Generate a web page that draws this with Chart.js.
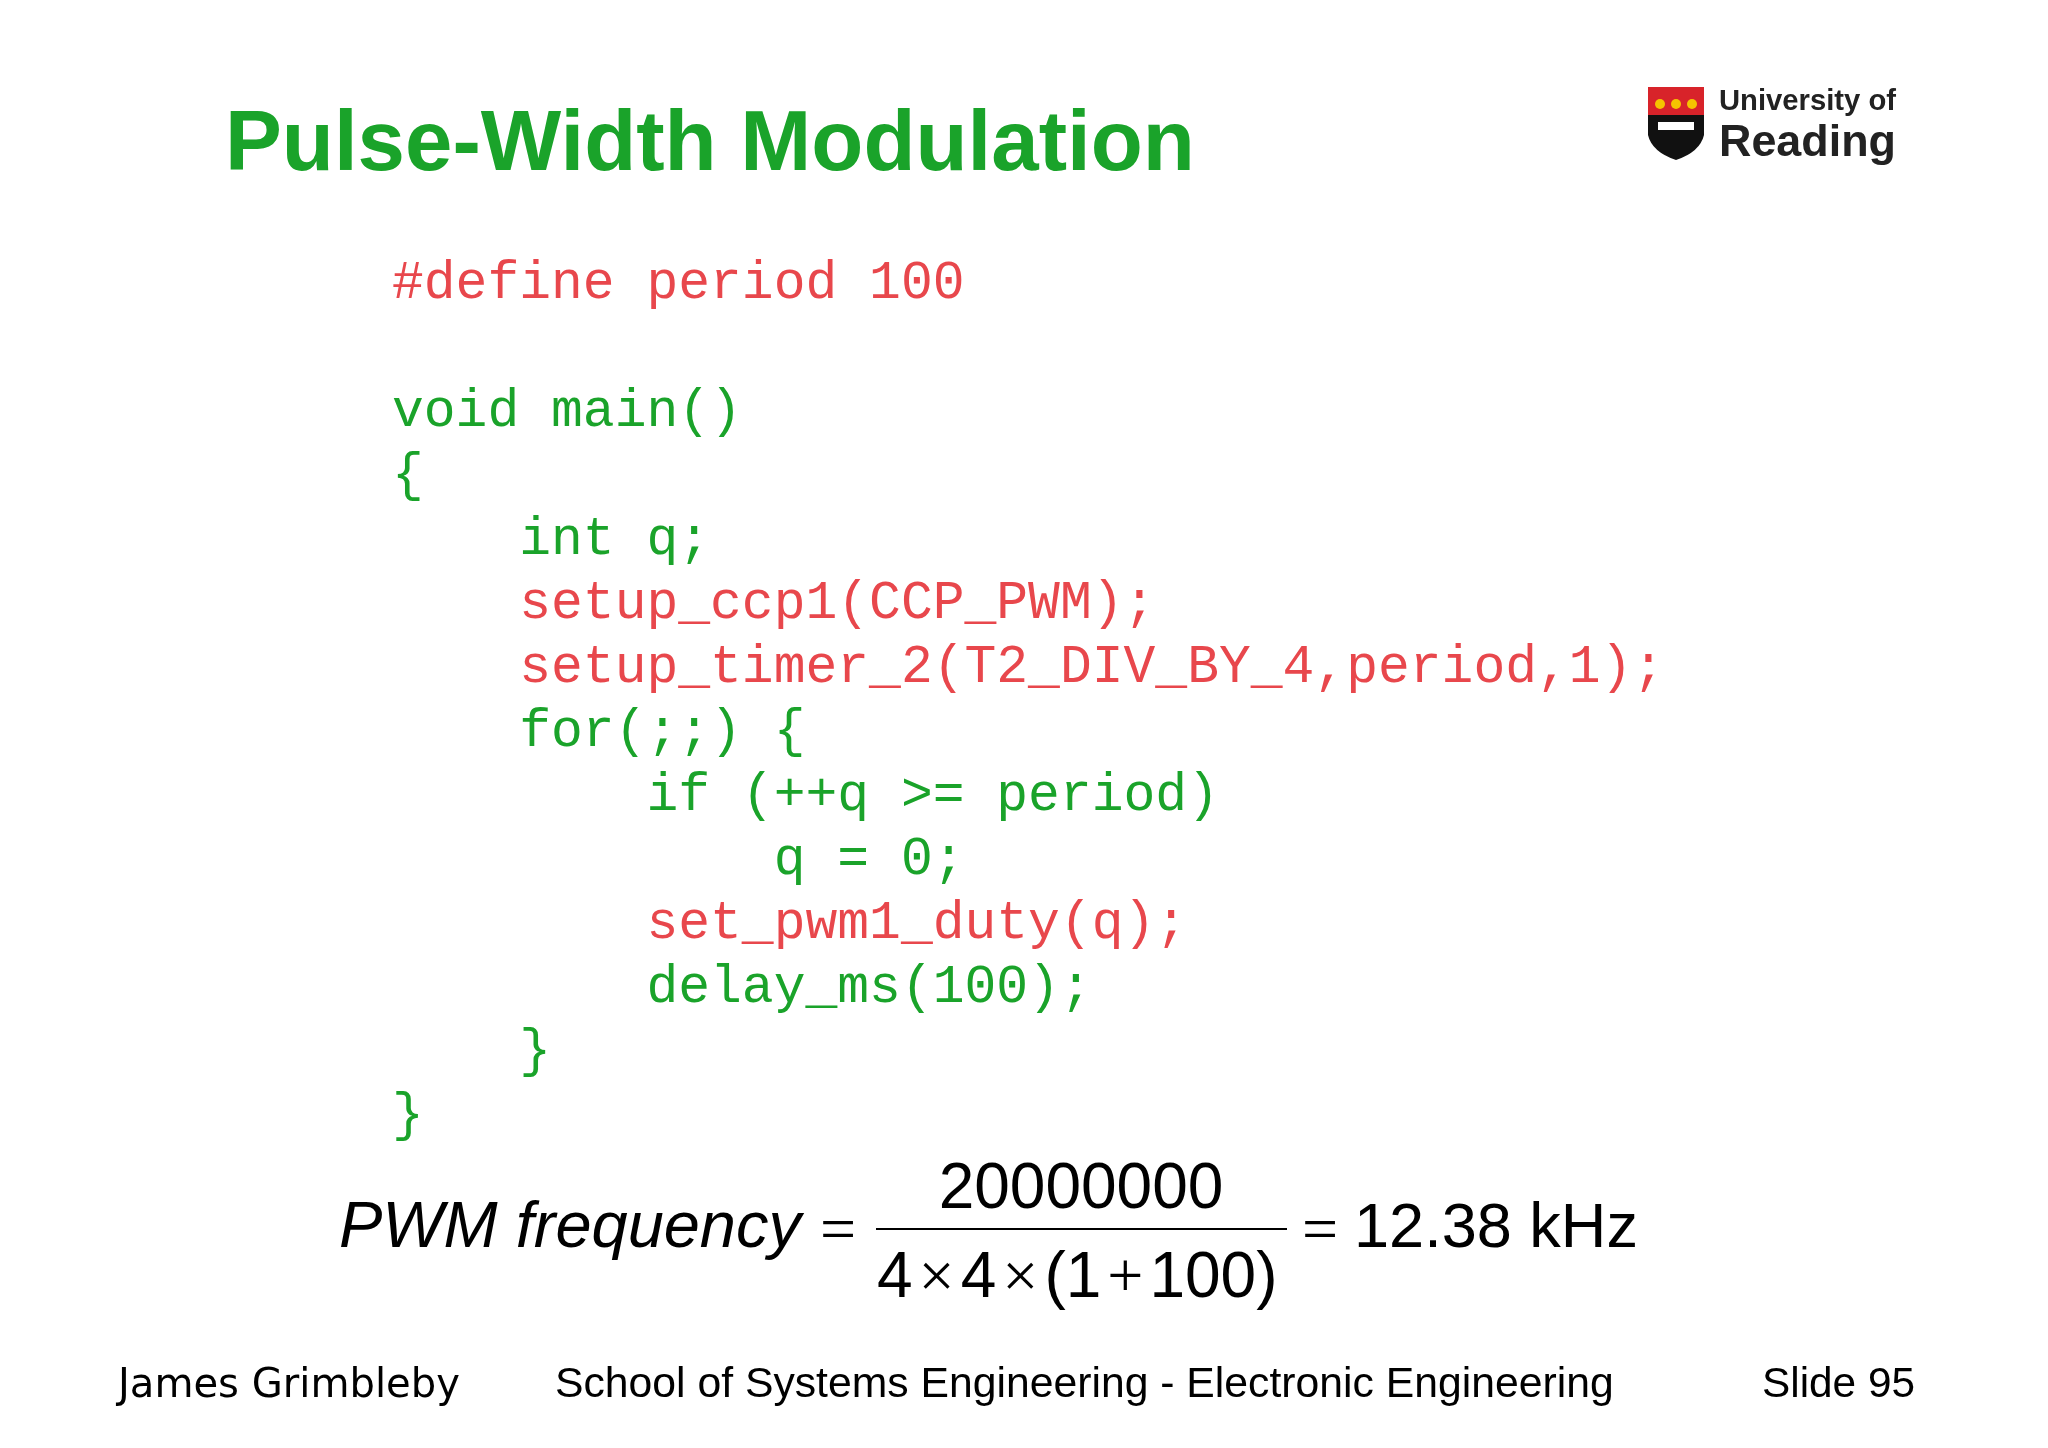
<!DOCTYPE html>
<html>
<head>
<meta charset="utf-8">
<script src="https://cdn.jsdelivr.net/npm/chart.js@4"></script>
<style>
  html, body { margin: 0; padding: 0; background: #fff; }
</style>
</head>
<body>
<canvas id="slide" width="2048" height="1448"></canvas>
<script>
// slide content
const title = "Pulse-Width Modulation";
const codeLines = [
  "#define period 100",
  "",
  "void main()",
  "{",
  "    int q;",
  "    setup_ccp1(CCP_PWM);",
  "    setup_timer_2(T2_DIV_BY_4,period,1);",
  "    for(;;) {",
  "        if (++q >= period)",
  "            q = 0;",
  "        set_pwm1_duty(q);",
  "        delay_ms(100);",
  "    }",
  "}"
];
const codeColours = ["r", "", "g", "g", "g", "r", "r", "g", "g", "g", "r", "g", "g", "g"];
const formulaLabel = "PWM frequency";
const numerator = "20000000";
const denominator = ["4", "×", "4", "×", "(1", "+", "100)"];
const result = "12.38 kHz";
const footer = ["James Grimbleby", "School of Systems Engineering - Electronic Engineering", "Slide 95"];

const RED = "#e8474c", GREEN = "#1aa32a";

const slidePlugin = {
  id: "slide",
  afterDraw(chart) {
    const ctx = chart.ctx;
    ctx.save();
    ctx.fillStyle = "#fff";
    ctx.fillRect(0, 0, 2048, 1448);
    ctx.textBaseline = "alphabetic";

    const fit = (txt, x, y, w, style, family, colour) => {
      ctx.font = style + " 100px " + family;
      const size = 100 * w / ctx.measureText(txt).width;
      ctx.font = style + " " + size + "px " + family;
      ctx.fillStyle = colour;
      ctx.fillText(txt, x, y);
      return size;
    };

    // title
    fit(title, 225, 170, 970, "bold", "Liberation Sans, Arial", GREEN);

    // logo
    ctx.fillStyle = "#d8232a";
    ctx.fillRect(1648, 87, 56, 28);
    ctx.fillStyle = "#111";
    ctx.beginPath();
    ctx.moveTo(1648, 115); ctx.lineTo(1704, 115); ctx.lineTo(1704, 135);
    ctx.quadraticCurveTo(1700, 152, 1676, 160);
    ctx.quadraticCurveTo(1652, 152, 1648, 135);
    ctx.closePath(); ctx.fill();
    ctx.fillStyle = "#fff";
    ctx.fillRect(1658, 122, 36, 8);
    ctx.fillStyle = "#f5c400";
    [1660, 1676, 1692].forEach(cx => { ctx.beginPath(); ctx.arc(cx, 104, 5, 0, 7); ctx.fill(); });
    fit("University of", 1719, 110, 177, "bold", "Liberation Sans, Arial", "#222");
    fit("Reading", 1719, 156, 177, "bold", "Liberation Sans, Arial", "#222");

    // code
    ctx.font = "53px 'Liberation Mono', monospace";
    codeLines.forEach((line, i) => {
      if (!line) return;
      ctx.fillStyle = codeColours[i] === "r" ? RED : GREEN;
      ctx.fillText(line, 392, 298 + i * 64);
    });

    // formula
    ctx.fillStyle = "#000";
    fit(formulaLabel, 339, 1247, 462, "italic", "Liberation Sans, Arial", "#000");
    ctx.font = "64px 'Liberation Serif', serif";
    ctx.fillText("=", 820, 1250);
    ctx.fillRect(876, 1228, 411, 2);
    ctx.font = "64px 'Liberation Sans', Arial";
    ctx.textAlign = "center";
    ctx.fillText(numerator, 1081, 1208);
    ctx.textAlign = "left";
    let x = 877;
    denominator.forEach(p => {
      const op = p === "×" || p === "+";
      ctx.font = op ? "64px 'Liberation Serif', serif" : "64px 'Liberation Sans', Arial";
      if (op) x += 6;
      ctx.fillText(p, x, 1297);
      x += ctx.measureText(p).width + (op ? 6 : 0);
    });
    ctx.font = "64px 'Liberation Serif', serif";
    ctx.fillText("=", 1302, 1250);
    fit(result, 1354, 1247, 284, "", "Liberation Sans, Arial", "#000");

    // footer
    fit(footer[0], 118, 1397, 342, "", "'Comic Sans MS', 'DejaVu Sans'", "#000");
    fit(footer[1], 555, 1397, 1059, "", "Liberation Sans, Arial", "#000");
    fit(footer[2], 1762, 1397, 153, "", "Liberation Sans, Arial", "#000");
    ctx.restore();
  }
};

new Chart(document.getElementById("slide"), {
  type: "scatter",
  data: { datasets: [{ data: [] }] },
  options: {
    responsive: false,
    animation: false,
    devicePixelRatio: 1,
    plugins: { legend: { display: false }, tooltip: { enabled: false } },
    scales: { x: { display: false }, y: { display: false } }
  },
  plugins: [slidePlugin]
});
</script>
</body>
</html>
